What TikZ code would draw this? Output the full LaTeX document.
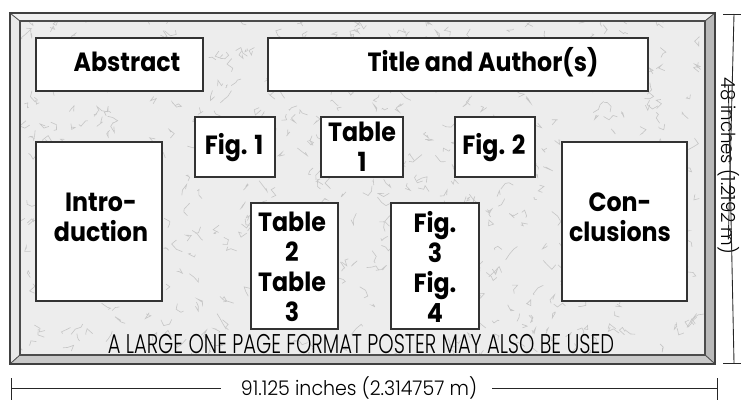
\documentclass[tikz,border=0pt]{standalone}
\usepackage{fontspec}
\setmainfont{Poppins}
\newfontfamily\lblfont{Poppins}[FakeStretch=0.9]
\newfontfamily\thinfont{Poppins Light}[FakeStretch=0.72]
\newfontfamily\dimfont{Poppins Light}[FakeStretch=0.94]
\usetikzlibrary{positioning,calc}

\tikzset{
  box/.style={draw=black!80, fill=white, line width=0.6pt},
  lbl/.style={font=\lblfont\bfseries\fontsize{15}{17}\selectfont, inner sep=0pt, align=center},
  dim/.style={line width=0.5pt, black!85},
  speck/.style={gray!45, line width=0.35pt}
}

\begin{document}
\begin{tikzpicture}[x=0.02cm,y=-0.02cm]
            \useasboundingbox (0,0) rectangle (741,402);
            % frame bevels
            \draw[fill=gray!18, draw=black!70] (10,13) -- (20,21) -- (20,355) -- (10,364) -- cycle;
            \draw[fill=gray!12, draw=black!70] (10,13) -- (715,13) -- (705,21) -- (20,21) -- cycle;
            \draw[fill=gray!55, draw=black!70] (715,13) -- (715,364) -- (705,355) -- (705,21) -- cycle;
            \draw[fill=gray!42, draw=black!70] (10,364) -- (715,364) -- (705,355) -- (20,355) -- cycle;
            % marbled panel
            \fill[gray!14] (20,21) rectangle (705,355);
            \pgfmathsetseed{11}
            \begin{scope}
              \clip (20,21) rectangle (705,355);
              \foreach \i in {1,...,650}{
                \pgfmathsetmacro\xa{20+685*rnd}
                \pgfmathsetmacro\ya{21+334*rnd}
                \draw[speck] (\xa,\ya) -- ++(rand*6,rand*6) -- ++(rand*6,rand*6) -- ++(rand*6,rand*6);
              }
            \end{scope}
            \draw[black!70, line width=0.6pt] (20,21) rectangle (705,355);
            \draw[black!75, line width=0.8pt] (10,13) rectangle (715,364);

            % poster sections
            \draw[box] (36,38) rectangle (203,91);
            \draw[box] (268,38) rectangle (648,91);
            \draw[box] (195,117) rectangle (275,177);
            \draw[box] (321,117) rectangle (403,177);
            \draw[box] (455,117) rectangle (535,177);
            \draw[box] (36,142) rectangle (162,301);
            \draw[box] (562,142) rectangle (687,301);
            \draw[box] (251,203) rectangle (338,329);
            \draw[box] (391,203) rectangle (479,329);

            \node[lbl, anchor=base] (abstract) at (127,72) {Abstract};
            \node[lbl, anchor=base] (title) at (483,72) {Title and Author(s)};
            \node[lbl, anchor=base] (fig1) at (234,154) {Fig. 1};
            \node[lbl] (tab1) at (362,147) {Table\\1};
            \node[lbl, anchor=base] (fig2) at (494,154) {Fig. 2};
            \node[lbl] (intro) at (101,217) {Intro-\\duction};
            \node[lbl] (concl) at (620,217) {Con-\\clusions};
            \node[lbl] (tab23) at (292,267) {Table\\2\\Table\\3};
            \node[lbl] (fig34) at (435,267) {Fig.\\3\\Fig.\\4};
            \node[font=\thinfont\fontsize{15.4}{17}\selectfont, inner sep=0pt, anchor=base] (note) at (361,353)
              {A LARGE ONE PAGE FORMAT POSTER MAY ALSO BE USED};

            % dimensions
            \node[font=\dimfont\fontsize{11.5}{13}\selectfont, inner sep=0pt] (width) at (359,388) {91.125 inches (2.314757 m)};
            \draw[dim] (11,378) -- (11,400);
            \draw[dim] (717,378) -- (717,400);
            \draw[dim] (11,388) -- ($(width.west)+(-20,0)$);
            \draw[dim] ($(width.east)+(15,0)$) -- (717,388);

            \node[font=\dimfont\fontsize{11}{13}\selectfont, inner sep=0pt, rotate=-90, anchor=north] (height) at (739.5,166) {48 inches (1.2192 m)};
            \draw[dim] (723,14) -- (745,14);
            \draw[dim] (723,363) -- (745,363);
            \draw[dim] (734,14) -- ($(height.east)+(0,-15)$);
            \draw[dim] ($(height.west)+(0,8)$) -- (734,363);
\end{tikzpicture}
\end{document}
